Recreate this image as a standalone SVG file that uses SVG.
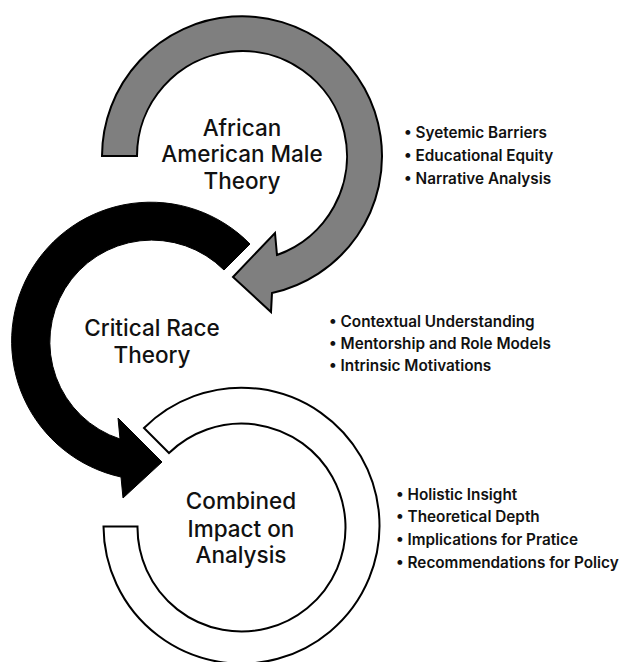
<svg xmlns="http://www.w3.org/2000/svg" width="623" height="662" viewBox="0 0 623 662">
  <style>
    .title { font-family: Inter, "Liberation Sans", sans-serif; font-size: 22.5px; font-weight: 500; fill: #111; text-anchor: middle; }
    .bullet { font-family: Inter, "Liberation Sans", sans-serif; font-size: 15.3px; font-weight: 600; fill: #111; }
    .ring { stroke: #000; stroke-width: 2; stroke-linejoin: miter; }
  </style>
  <rect width="623" height="662" fill="#fff"/>

  <g id="node-aamt">
    <path class="ring" fill="#7f7f7f"
      d="M102,156 A140,140 0 1 1 272,293 L271,312 L233,277 L275,233 L277,255 A105,105 0 1 0 137,156 Z"/>
    <text class="title" x="242" y="136">African</text>
    <text class="title" x="242" y="162">American Male</text>
    <text class="title" x="242" y="189">Theory</text>
    <g class="bullet">
      <text x="404" y="138">• Syetemic Barriers</text>
      <text x="404" y="161">• Educational Equity</text>
      <text x="404" y="184">• Narrative Analysis</text>
    </g>
  </g>

  <g id="node-crt">
    <path fill="#000" stroke="#000" stroke-width="1"
      d="M250,244 A139,139 0 1 0 121,477 L123,498 L162,462 L118,418 L120,439 A102,102 0 1 1 224,270 Z"/>
    <text class="title" x="152" y="336">Critical Race</text>
    <text class="title" x="152" y="363">Theory</text>
    <g class="bullet">
      <text x="329" y="327">• Contextual Understanding</text>
      <text x="329" y="349">• Mentorship and Role Models</text>
      <text x="329" y="371">• Intrinsic Motivations</text>
    </g>
  </g>

  <g id="node-combined">
    <path class="ring" fill="#fff"
      d="M103.5,526.5 A138,138 0 1 0 144,428 L169,453 A104,104 0 1 1 137.5,526.5 Z"/>
    <text class="title" x="241" y="509">Combined</text>
    <text class="title" x="241" y="537">Impact on</text>
    <text class="title" x="241" y="563">Analysis</text>
    <g class="bullet">
      <text x="396" y="500">• Holistic Insight</text>
      <text x="396" y="522">• Theoretical Depth</text>
      <text x="396" y="545">• Implications for Pratice</text>
      <text x="396" y="568">• Recommendations for Policy</text>
    </g>
  </g>

  <g id="connectors"></g>
</svg>
